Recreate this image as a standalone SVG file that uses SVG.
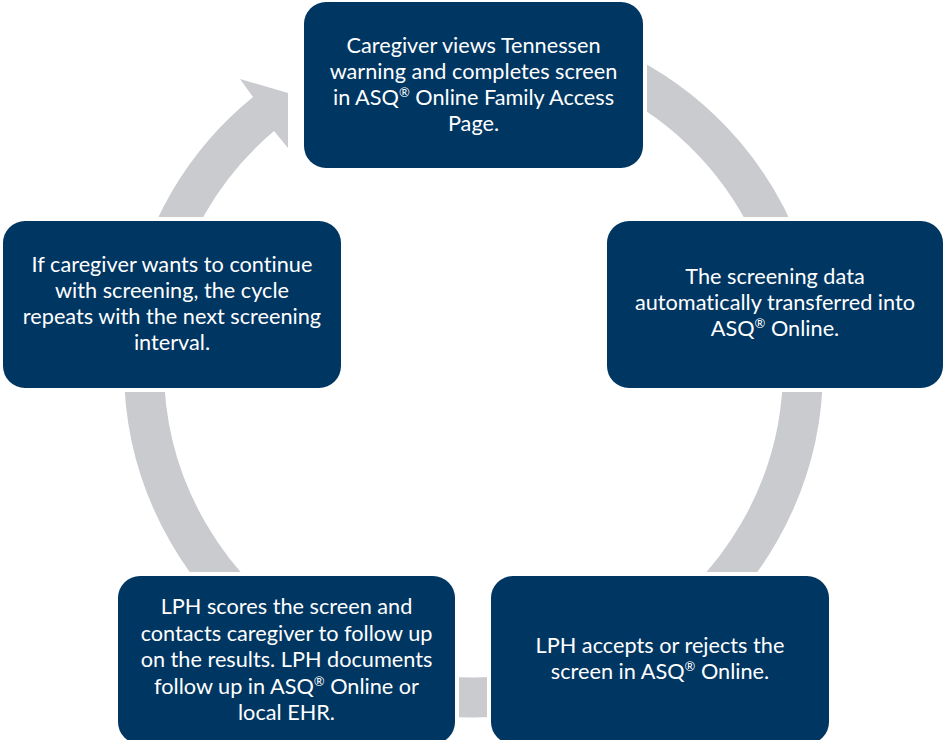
<svg xmlns="http://www.w3.org/2000/svg" width="944" height="740" viewBox="0 0 944 740">
<style>
.ring{fill:none;stroke:#C9CBCF;stroke-width:40}
.arrow{fill:#C9CBCF;stroke:none}
.node rect{fill:#003662;stroke:#FFFFFF;stroke-width:8;paint-order:stroke}
.node text{fill:#FFFFFF;font-family:Lato,"Open Sans","Noto Sans",sans-serif;font-size:21.7px;text-anchor:middle;font-variant-ligatures:none}
.sup{font-size:13px;baseline-shift:super}
</style>
<rect width="944" height="740" fill="#FFFFFF"/>
<g id="connectors">
<path class="ring" d="M 388.2 49.7 A 329.5 329.5 0 0 1 783.1 255.3"/>
<path class="ring" d="M 803 368 A 329.5 329.5 0 0 1 638.3 653.4"/>
<path class="ring" d="M 530.7 692.5 A 329.5 329.5 0 0 1 416.3 692.5"/>
<path class="ring" d="M 308.8 653.4 A 329.5 329.5 0 0 1 144 368"/>
<path class="arrow" d="M 129.3 307.3 A 349.5 349.5 0 0 1 253 97 L 240 79 L 288 93 L 288 148 L 274 131 A 309.5 309.5 0 0 0 168.7 314.3 Z"/>
</g>
<g id="node-top" class="node">
<rect x="304" y="2" width="339" height="166" rx="22"/>
<text x="473.5" y="53">Caregiver views Tennessen</text>
<text x="473.5" y="79">warning and completes screen</text>
<text x="473.5" y="105">in ASQ<tspan class="sup">®</tspan> Online Family Access</text>
<text x="473.5" y="131">Page.</text>
</g>
<g id="node-right" class="node">
<rect x="607" y="221" width="336" height="167" rx="22"/>
<text x="775" y="284">The screening data</text>
<text x="775" y="310">automatically transferred into</text>
<text x="775" y="336">ASQ<tspan class="sup">®</tspan> Online.</text>
</g>
<g id="node-bottom-right" class="node">
<rect x="491" y="576" width="338" height="168" rx="22"/>
<text x="660" y="653">LPH accepts or rejects the</text>
<text x="660" y="679">screen in ASQ<tspan class="sup">®</tspan> Online.</text>
</g>
<g id="node-bottom-left" class="node">
<rect x="118" y="576" width="337" height="168" rx="22"/>
<text x="286.5" y="614">LPH scores the screen and</text>
<text x="286.5" y="641">contacts caregiver to follow up</text>
<text x="286.5" y="667">on the results. LPH documents</text>
<text x="286.5" y="694">follow up in ASQ<tspan class="sup">®</tspan> Online or</text>
<text x="286.5" y="720">local EHR.</text>
</g>
<g id="node-left" class="node">
<rect x="3" y="221" width="338" height="167" rx="22"/>
<text x="172" y="272">If caregiver wants to continue</text>
<text x="172" y="298">with screening, the cycle</text>
<text x="172" y="324">repeats with the next screening</text>
<text x="172" y="350">interval.</text>
</g>
</svg>
